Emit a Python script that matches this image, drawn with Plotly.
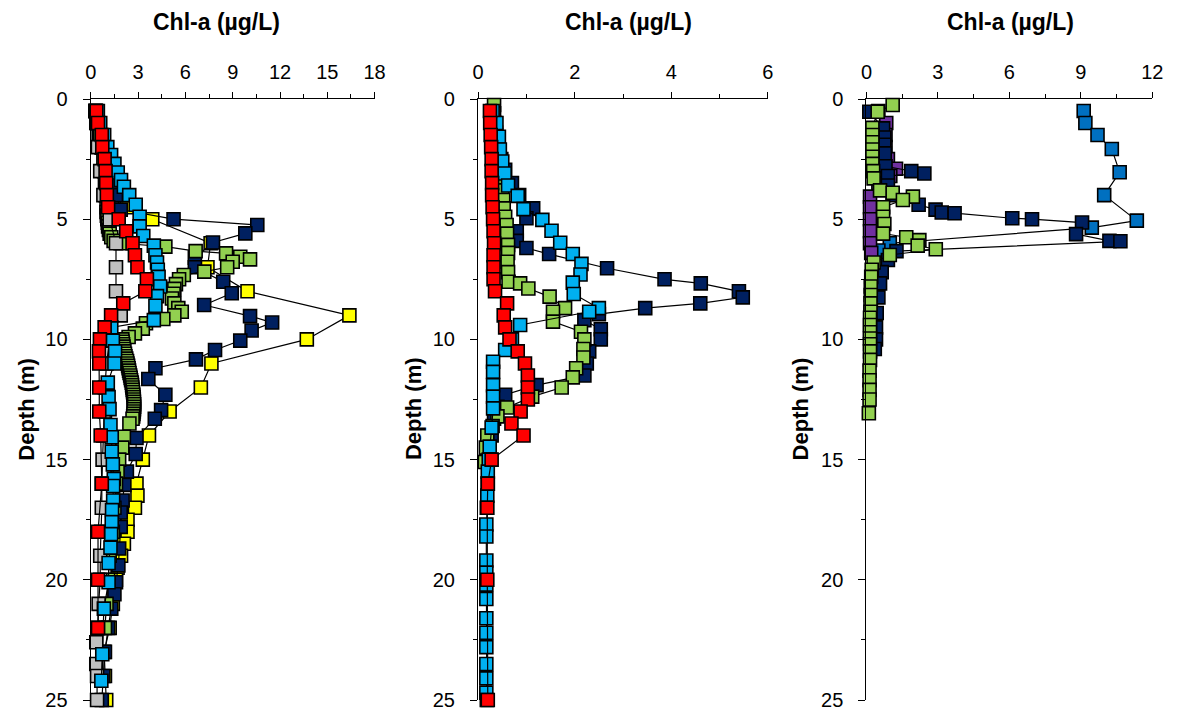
import plotly.graph_objects as go

# ---------------- Panel 1 data ----------------
p1_yellow_depth = [0.5,1,1.5,2,2.5,3,3.5,4,4.5,5,6,7,8,9,10,11,12,13,14,15,16,16.5,17,17.5,18,18.5,19,19.5,20,21,22,23,24,25]
p1_yellow_chl = [0.3,0.4,0.5,0.7,0.9,1.1,1.4,1.8,2.3,3.9,7.6,7.4,9.94,16.4,13.7,7.65,6.98,5.0,3.69,3.3,2.9,2.96,2.8,2.33,2.33,2.1,1.92,1.7,1.6,1.4,1.2,0.85,0.9,0.98]

p1_navy_depth = [0.5,1,1.5,2,2.5,3,3.5,4,4.6,5.0,5.24,5.59,5.97,6.6,7.0,7.6,8.08,8.57,9.03,9.3,9.63,10.05,10.44,10.83,11.2,11.65,12.3,12.94,13.3,14.1,14.77,15.5,16.05,16.7,17.2,17.8,18.7,19.4,20.1,20.6,21.2,22,23,24,25]
p1_navy_chl = [0.3,0.4,0.55,0.7,0.9,1.1,1.3,1.6,1.9,5.25,10.56,9.8,7.75,6.6,6.6,8.4,8.94,7.19,10.1,11.5,10.2,9.48,7.88,6.67,4.1,3.65,4.73,4.46,4.06,2.9,2.85,2.29,2.13,2.02,1.9,1.9,1.8,1.75,1.6,1.5,1.3,1.1,0.9,0.8,0.7]

p1_green_depth = [0.5,1.0,1.5,2.0,2.5,3.0,3.5,4.0,4.5,4.7,4.85,5.0,5.15,5.3,5.45,5.6,5.75,5.9,6.0,6.14,6.33,6.42,6.56,6.67,6.77,7.0,7.18,7.32,7.5,7.7,7.9,8.1,8.3,8.5,8.7,8.85,9.0,9.15,9.33,9.55,9.75,9.9,
                  10.0,10.1,10.2,10.3,10.4,10.5,10.6,10.7,10.8,10.9,11.0,11.1,11.2,11.3,11.4,11.5,11.6,11.7,11.8,11.9,12.0,12.1,12.2,12.3,12.4,12.5,12.6,12.7,12.8,12.9,13.0,13.1,13.2,13.3,
                  13.5,14.05,14.5,15.0,15.5,16,17,18,19,20,21,22]
p1_green_chl = [0.3,0.45,0.6,0.7,0.8,0.85,0.9,0.95,1.0,1.0,1.02,1.05,1.08,1.1,1.15,1.2,1.3,1.45,1.9,4.73,6.65,8.58,9.48,10.1,9.0,8.65,7.2,5.9,5.6,5.4,5.3,5.25,5.15,5.3,5.55,5.77,5.3,4.6,3.5,3.3,2.8,2.4,
                2.0,2.02,2.05,2.08,2.1,2.13,2.17,2.2,2.25,2.3,2.33,2.37,2.4,2.43,2.46,2.5,2.53,2.56,2.6,2.62,2.64,2.66,2.68,2.7,2.72,2.73,2.74,2.75,2.75,2.74,2.73,2.71,2.69,2.65,
                2.45,2.1,2.0,1.8,1.7,1.6,1.5,1.4,1.2,1.1,1.0,0.9]

p1_grey_depth = [0.5,1,2,3,4,5,6,7,8,9,10,11,12,13,14,15,16,17,18,19,20,21,22,22.6,23.5,24,25]
p1_grey_chl = [0.3,0.35,0.45,0.6,0.8,1.2,1.6,1.6,1.6,1.9,1.2,1.0,0.9,0.9,0.8,0.75,0.7,0.7,0.65,0.6,0.6,0.5,0.45,0.35,0.35,0.4,0.4]

p1_blue_depth = [0.5,1,1.5,2,2.33,2.7,3.06,3.37,3.65,4.0,4.4,4.9,5.3,5.7,6.1,6.5,6.8,7.1,7.4,7.8,8.2,8.6,9.2,9.5,10.05,10.5,11.0,11.8,12.4,12.9,13.56,14.07,14.67,15.2,15.8,16.1,16.7,17.1,17.6,18.1,18.66,19.3,20.1,21.2,23.1,24.2]
p1_blue_chl = [0.45,0.6,0.85,1.05,1.29,1.5,1.71,1.92,2.1,2.44,2.85,3.1,3.1,3.33,4.0,4.1,4.2,4.25,4.3,4.4,4.2,4.1,4.0,1.3,1.4,1.54,1.5,1.08,1.13,1.19,1.25,1.33,1.33,1.4,1.46,1.42,1.42,1.35,1.33,1.29,1.25,1.13,1.13,0.83,0.73,0.67]

p1_red_depth = [0.5,1,1.5,2,2.5,3,3.5,4,4.5,5,5.5,6,6.5,7,7.5,8,8.5,9,9.5,10,10.5,11,12,13,14,16,18,20,22]
p1_red_chl = [0.35,0.46,0.7,0.73,0.88,0.94,0.98,1.02,1.1,1.77,2.25,2.65,2.8,2.96,3.56,3.46,2.06,1.29,0.88,0.58,0.52,0.54,0.54,0.54,0.63,0.7,0.46,0.46,0.46]

# ---------------- Panel 2 data ----------------
p2_navy_depth = [0.5,1,1.5,2,2.5,2.95,3.5,4.0,4.55,4.96,5.5,5.9,6.2,6.45,7.04,7.5,7.67,8.0,8.25,8.5,8.7,8.95,9.2,9.58,10.0,10.5,11.0,11.5,11.9,12.3,12.8,13.3,14.0,15.0]
p2_navy_chl = [0.3,0.33,0.37,0.42,0.48,0.56,0.7,0.85,1.14,1.0,0.8,0.8,1.0,1.47,2.67,3.86,4.61,5.4,5.48,4.6,3.46,2.5,2.2,2.54,2.54,2.3,2.25,2.2,1.21,0.56,0.4,0.33,0.28,0.25]

p2_green_depth = [0.25,0.6,1.0,1.4,1.8,2.2,2.6,3.0,3.4,3.8,4.2,4.55,4.9,5.24,5.6,6.07,6.4,6.77,7.2,7.6,7.67,7.88,8.22,8.7,8.85,9.26,9.68,10.0,10.4,10.75,11.2,11.58,12.0,12.38,12.83,13.2,13.6,14.0,14.5,15.1]
p2_green_chl = [0.33,0.33,0.35,0.37,0.4,0.42,0.45,0.47,0.5,0.5,0.52,0.53,0.56,0.59,0.6,0.62,0.62,0.61,0.62,0.63,0.87,1.04,1.48,1.8,1.55,1.55,2.13,2.2,2.18,2.18,2.03,1.96,1.73,1.12,0.6,0.4,0.3,0.19,0.16,0.14]

p2_blue_depth = [0.5,1.0,1.57,2.1,2.6,3.1,3.6,4.03,4.58,5.03,5.48,5.98,6.45,6.86,7.3,7.64,8.11,8.7,8.85,9.4,10.0,10.44,10.93,11.35,11.9,12.38,12.87,13.67,14.46,15.0,15.5,16,16.5,17.0,17.7,18.2,19.2,19.7,20.2,20.8,21.6,22.2,22.8,23.5,24.1,24.7,25]
p2_blue_chl = [0.3,0.38,0.43,0.45,0.5,0.55,0.62,0.82,0.94,1.33,1.52,1.7,1.96,2.14,2.12,1.96,1.98,2.5,2.3,0.87,0.7,0.56,0.31,0.31,0.31,0.31,0.31,0.28,0.24,0.22,0.2,0.2,0.19,0.18,0.17,0.17,0.17,0.17,0.17,0.17,0.17,0.17,0.17,0.17,0.17,0.17,0.18]

p2_red_depth = [0.5,1,1.5,2,2.5,3,3.5,4,4.5,5,5.5,6,6.5,7,7.5,8,8.5,9,9.5,10,10.5,11,11.5,12,12.5,13,13.5,14,15,16,17,20,25]
p2_red_chl = [0.245,0.25,0.26,0.27,0.28,0.28,0.29,0.29,0.3,0.31,0.32,0.33,0.32,0.32,0.32,0.35,0.6,0.53,0.56,0.65,0.82,0.97,1.03,1.03,1.03,0.88,0.69,0.94,0.28,0.2,0.19,0.19,0.2]

# ---------------- Panel 3 data ----------------
p3_blue_depth = [0.5,1.0,1.5,2.08,3.05,4.0,5.06,5.35,6.0,6.3]
p3_blue_chl = [9.12,9.19,9.7,10.3,10.63,9.98,11.35,9.46,0.98,0.5]

p3_purple_depth = [0.5,1.0,1.5,2.0,2.5,2.9,3.2,3.5,4.06,4.5,5.0,5.5,6.0,6.4]
p3_purple_chl = [0.5,0.83,0.8,0.8,0.9,1.24,1.0,0.5,0.15,0.15,0.15,0.15,0.15,0.2]

p3_navy_depth = [0.53,1.22,1.6,1.9,2.26,2.8,3.0,3.1,3.2,3.6,4.0,4.4,4.6,4.72,4.75,4.96,5.0,5.14,5.62,5.9,5.92,6.33,6.7,7.2,7.67,8.25,8.9,9.5,10.0,10.4]
p3_navy_chl = [0.12,0.7,0.75,0.75,0.77,0.8,1.88,2.43,0.9,0.9,1.1,2.19,2.9,3.16,3.7,6.12,6.95,9.05,8.8,10.2,10.66,1.26,0.9,0.64,0.57,0.5,0.43,0.4,0.4,0.35]

p3_green_depth = [0.25,0.53,1.2,1.5,1.8,2.1,2.4,2.7,3.0,3.3,3.8,3.9,4.06,4.2,4.5,4.9,5.2,5.6,5.75,5.87,6.1,6.25,6.49,6.8,7.1,7.4,7.8,8.15,8.5,8.85,9.1,9.4,9.7,9.96,10.2,10.5,10.85,11.3,11.7,12.1,12.5,13.07]
p3_green_chl = [1.1,0.47,0.25,0.25,0.25,0.25,0.25,0.25,0.28,0.3,0.57,1.1,1.95,1.53,0.7,0.7,0.75,0.7,1.67,2.22,2.15,2.91,0.98,0.3,0.22,0.2,0.18,0.18,0.17,0.17,0.15,0.15,0.15,0.15,0.15,0.15,0.15,0.13,0.13,0.13,0.13,0.1]

# ---------------- styling ----------------
COLORS = {"red": "#FF0000", "lblue": "#00B0F0", "navy": "#002060", "green": "#92D050",
          "yellow": "#FFFF00", "grey": "#C0C0C0", "purple": "#7030A0", "blue": "#0070C0"}
FONT = "Liberation Sans, Arial, sans-serif"

fig = go.Figure()

def add(xs, ys, color, n):
    fig.add_trace(go.Scatter(
        x=xs, y=ys, mode="lines+markers", cliponaxis=False,
        line=dict(color="black", width=1.2),
        marker=dict(symbol="square", size=13, color=color, line=dict(color="black", width=1.6)),
        xaxis="x" if n == 1 else f"x{n}", yaxis="y" if n == 1 else f"y{n}",
        showlegend=False, hoverinfo="skip"))

add(p1_yellow_chl, p1_yellow_depth, COLORS["yellow"], 1)
add(p1_navy_chl, p1_navy_depth, COLORS["navy"], 1)
add(p1_green_chl, p1_green_depth, COLORS["green"], 1)
add(p1_grey_chl, p1_grey_depth, COLORS["grey"], 1)
add(p1_blue_chl, p1_blue_depth, COLORS["lblue"], 1)
add(p1_red_chl, p1_red_depth, COLORS["red"], 1)

add(p2_navy_chl, p2_navy_depth, COLORS["navy"], 2)
add(p2_green_chl, p2_green_depth, COLORS["green"], 2)
add(p2_blue_chl, p2_blue_depth, COLORS["lblue"], 2)
add(p2_red_chl, p2_red_depth, COLORS["red"], 2)

add(p3_blue_chl, p3_blue_depth, COLORS["blue"], 3)
add(p3_purple_chl, p3_purple_depth, COLORS["purple"], 3)
add(p3_navy_chl, p3_navy_depth, COLORS["navy"], 3)
add(p3_green_chl, p3_green_depth, COLORS["green"], 3)

W, H = 1184, 713
domains = [(86, 374), (479, 773), (873, 1163)]
xranges = [(0, 18, 3, 1.5), (0, 6, 2, 1), (0, 12, 3, 1.5)]

axis_common = dict(showgrid=False, zeroline=False, showline=True, linecolor="black", linewidth=1.3,
                   ticks="outside", ticklen=7, tickwidth=1.3, tickcolor="black",
                   tickfont=dict(family=FONT, size=20, color="black"))
layout = dict(width=W, height=H, paper_bgcolor="white", plot_bgcolor="white",
              margin=dict(l=0, r=0, t=99, b=13), showlegend=False)

for i, ((a, b), (lo, hi, dt, mdt)) in enumerate(zip(domains, xranges), start=1):
    xk = "xaxis" if i == 1 else f"xaxis{i}"
    yk = "yaxis" if i == 1 else f"yaxis{i}"
    ya = "y" if i == 1 else f"y{i}"
    xa = "x" if i == 1 else f"x{i}"
    layout[xk] = dict(axis_common, domain=[a / W, b / W], range=[lo, hi], side="top", anchor=ya,
                      tick0=0, dtick=dt, ticklen=6, ticklabelstandoff=5,
                      minor=dict(dtick=mdt, ticks="outside", ticklen=4, tickcolor="black", tickwidth=1))
    layout[yk] = dict(axis_common, domain=[0, 1], range=[25, 0], anchor=xa, tick0=0, dtick=5,
                      ticklabelstandoff=11,
                      minor=dict(dtick=2.5, ticks="outside", ticklen=4, tickcolor="black", tickwidth=1))

fig.update_layout(**layout)

plot_h = H - 99 - 13
def py(pixel_y):
    return (H - 13 - pixel_y) / plot_h

title_x = [214, 632, 1019]
depth_x = [20, 413, 806]
for tx, dx in zip(title_x, depth_x):
    fig.add_annotation(text="<b>Chl-a (µg/L)</b>", x=tx / W, y=py(22), xref="paper", yref="paper",
                       showarrow=False, xanchor="center", yanchor="middle",
                       font=dict(family=FONT, size=23, color="black"))
    fig.add_annotation(text="<b>Depth (m)</b>", x=dx / W, y=py(409), xref="paper", yref="paper",
                       showarrow=False, xanchor="center", yanchor="middle", textangle=-90,
                       font=dict(family=FONT, size=22, color="black"))

fig.write_html("out.html")
